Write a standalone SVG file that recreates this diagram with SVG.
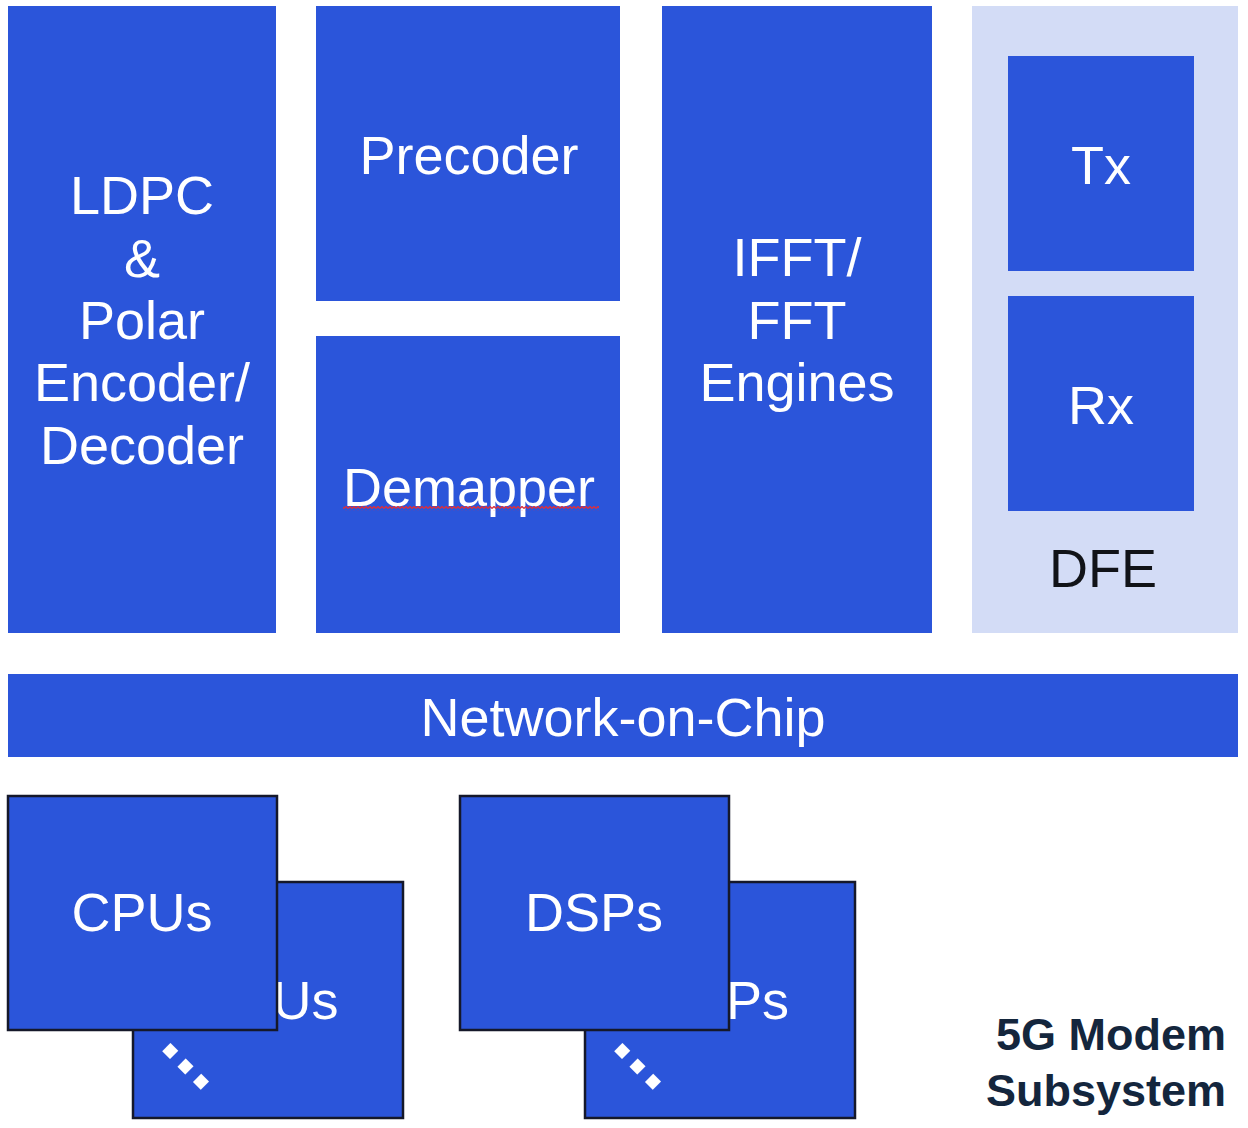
<svg xmlns="http://www.w3.org/2000/svg" width="1248" height="1128" viewBox="0 0 1248 1128">
<style>
.blk{fill:#2b55da}
.stk{fill:#2b55da;stroke:#15182a;stroke-width:2.5}
.t{font-family:"Liberation Sans",Arial,sans-serif;font-size:54px;fill:#ffffff;text-anchor:middle}
.d{font-family:"Liberation Sans",Arial,sans-serif;font-size:54px;fill:#111318;text-anchor:middle}
.b{font-family:"Liberation Sans",Arial,sans-serif;font-size:45px;font-weight:bold;fill:#14263d;text-anchor:end}
.dots{font-family:"Liberation Sans",Arial,sans-serif;font-size:78px;font-weight:bold;fill:#ffffff;text-anchor:middle}
</style>
<defs>
<pattern id="wave" width="4" height="5" patternUnits="userSpaceOnUse">
<path d="M0 3.5 L2 1.5 L4 3.5" stroke="#d8303f" stroke-width="1.4" fill="none"/>
</pattern>
</defs>
<rect width="1248" height="1128" fill="#ffffff"/>
<g id="ldpc">
<rect class="blk" x="8" y="6" width="268" height="627"/>
<text class="t" x="142" y="214">LDPC</text>
<text class="t" x="142" y="277">&amp;</text>
<text class="t" x="142" y="339">Polar</text>
<text class="t" x="142" y="401">Encoder/</text>
<text class="t" x="142" y="464">Decoder</text>
</g>
<g id="precoder">
<rect class="blk" x="316" y="6" width="304" height="295"/>
<text class="t" x="469" y="174">Precoder</text>
</g>
<g id="demapper">
<rect class="blk" x="316" y="336" width="304" height="297"/>
<text class="t" x="469" y="506">Demapper</text>
<rect x="343" y="506" width="256" height="5" fill="url(#wave)"/>
</g>
<g id="fft">
<rect class="blk" x="662" y="6" width="270" height="627"/>
<text class="t" x="797" y="276">IFFT/</text>
<text class="t" x="797" y="339">FFT</text>
<text class="t" x="797" y="401">Engines</text>
</g>
<g id="dfe">
<rect x="972" y="6" width="266" height="627" fill="#d3dcf6"/>
<text class="d" x="1103" y="587">DFE</text>
</g>
<g id="tx">
<rect class="blk" x="1008" y="56" width="186" height="215"/>
<text class="t" x="1101" y="184">Tx</text>
</g>
<g id="rx">
<rect class="blk" x="1008" y="296" width="186" height="215"/>
<text class="t" x="1101" y="424">Rx</text>
</g>
<g id="noc">
<rect class="blk" x="8" y="674" width="1230" height="83"/>
<text class="t" x="623" y="736">Network-on-Chip</text>
</g>
<g id="cpus-back">
<rect class="stk" x="133" y="882" width="270" height="236"/>
<text class="t" x="268" y="1019">CPUs</text>
<text class="dots" transform="translate(185,1067) rotate(45)" x="0" y="5">...</text>
</g>
<g id="cpus">
<rect class="stk" x="8" y="796" width="269" height="234"/>
<text class="t" x="142" y="931">CPUs</text>
</g>
<g id="dsps-back">
<rect class="stk" x="585" y="882" width="270" height="236"/>
<text class="t" x="720" y="1019">DSPs</text>
<text class="dots" transform="translate(637,1067) rotate(45)" x="0" y="5">...</text>
</g>
<g id="dsps">
<rect class="stk" x="460" y="796" width="269" height="234"/>
<text class="t" x="594" y="931">DSPs</text>
</g>
<g id="label">
<text class="b" x="1226" y="1050">5G Modem</text>
<text class="b" x="1226" y="1106">Subsystem</text>
</g>
<g id="connectors"></g>
</svg>
